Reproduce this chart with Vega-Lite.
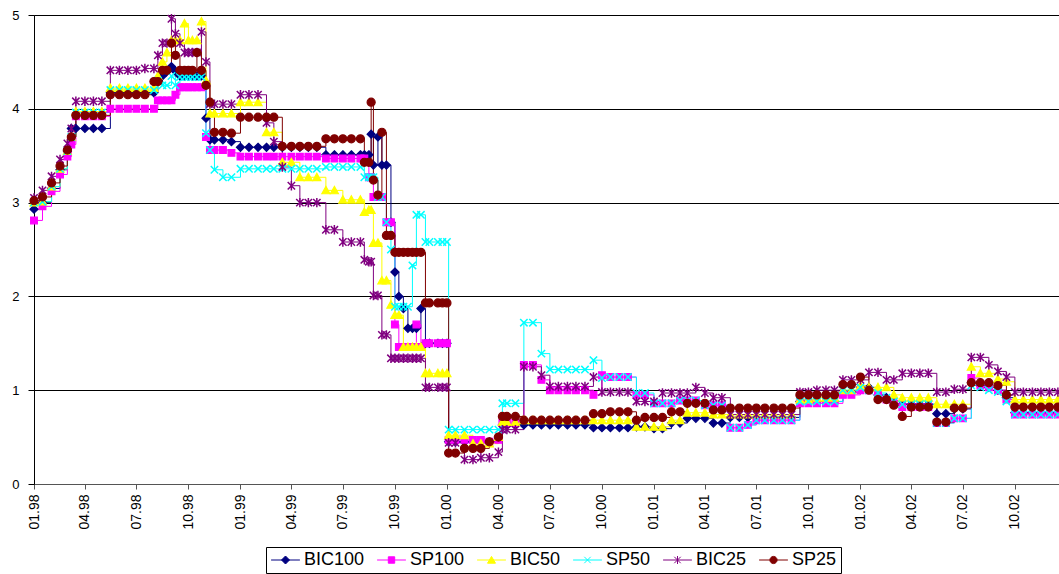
{
"$schema": "https://vega.github.io/schema/vega-lite/v6.json",
"width": 1025, "height": 469,
"autosize": {"type": "none"},
"padding": {"left": 34, "top": 15, "right": 0, "bottom": 90},
"background": "white",
"config": {"view": {"stroke": "#808080", "strokeWidth": 1}, "font": "Liberation Sans"},
"data": {"values": [
{"date":"1998-01-01","BIC100":2.93,"SP100":2.81,"BIC50":3.0,"SP50":3.0,"BIC25":3.05,"SP25":3.02},
{"date":"1998-01-16","BIC100":3.0,"SP100":2.96,"BIC50":3.01,"SP50":3.01,"BIC25":3.13,"SP25":3.06},
{"date":"1998-02-01","BIC100":3.15,"SP100":3.12,"BIC50":3.17,"SP50":3.17,"BIC25":3.28,"SP25":3.21},
{"date":"1998-02-16","BIC100":3.35,"SP100":3.3,"BIC50":3.36,"SP50":3.36,"BIC25":3.46,"SP25":3.39},
{"date":"1998-03-01","BIC100":3.55,"SP100":3.49,"BIC50":3.55,"SP50":3.55,"BIC25":3.63,"SP25":3.56},
{"date":"1998-03-08","BIC100":3.79,"SP100":3.62,"BIC50":3.7,"SP50":3.7,"BIC25":3.79,"SP25":3.7},
{"date":"1998-03-16","BIC100":3.79,"SP100":3.92,"BIC50":3.97,"SP50":3.96,"BIC25":4.08,"SP25":3.93},
{"date":"1998-04-01","BIC100":3.79,"SP100":3.92,"BIC50":3.97,"SP50":3.96,"BIC25":4.08,"SP25":3.93},
{"date":"1998-04-16","BIC100":3.79,"SP100":3.92,"BIC50":3.97,"SP50":3.96,"BIC25":4.08,"SP25":3.93},
{"date":"1998-05-01","BIC100":3.79,"SP100":3.92,"BIC50":3.97,"SP50":3.96,"BIC25":4.08,"SP25":3.93},
{"date":"1998-05-16","BIC100":4.17,"SP100":4.0,"BIC50":4.22,"SP50":4.2,"BIC25":4.41,"SP25":4.15},
{"date":"1998-06-01","BIC100":4.17,"SP100":4.0,"BIC50":4.22,"SP50":4.2,"BIC25":4.41,"SP25":4.15},
{"date":"1998-06-16","BIC100":4.17,"SP100":4.0,"BIC50":4.22,"SP50":4.2,"BIC25":4.41,"SP25":4.15},
{"date":"1998-07-01","BIC100":4.17,"SP100":4.0,"BIC50":4.22,"SP50":4.2,"BIC25":4.41,"SP25":4.15},
{"date":"1998-07-16","BIC100":4.17,"SP100":4.0,"BIC50":4.22,"SP50":4.2,"BIC25":4.43,"SP25":4.15},
{"date":"1998-08-01","BIC100":4.17,"SP100":4.0,"BIC50":4.22,"SP50":4.2,"BIC25":4.43,"SP25":4.29},
{"date":"1998-08-08","BIC100":4.3,"SP100":4.09,"BIC50":4.35,"SP50":4.3,"BIC25":4.57,"SP25":4.29},
{"date":"1998-08-16","BIC100":4.35,"SP100":4.09,"BIC50":4.5,"SP50":4.25,"BIC25":4.7,"SP25":4.41},
{"date":"1998-08-24","BIC100":4.4,"SP100":4.09,"BIC50":4.6,"SP50":4.25,"BIC25":4.7,"SP25":4.41},
{"date":"1998-09-01","BIC100":4.45,"SP100":4.09,"BIC50":4.73,"SP50":4.35,"BIC25":4.96,"SP25":4.7},
{"date":"1998-09-08","BIC100":4.4,"SP100":4.15,"BIC50":4.73,"SP50":4.25,"BIC25":4.8,"SP25":4.57},
{"date":"1998-09-16","BIC100":4.35,"SP100":4.23,"BIC50":4.73,"SP50":4.34,"BIC25":4.7,"SP25":4.41},
{"date":"1998-09-24","BIC100":4.35,"SP100":4.23,"BIC50":4.91,"SP50":4.34,"BIC25":4.6,"SP25":4.41},
{"date":"1998-10-01","BIC100":4.35,"SP100":4.23,"BIC50":4.73,"SP50":4.34,"BIC25":4.6,"SP25":4.41},
{"date":"1998-10-08","BIC100":4.35,"SP100":4.23,"BIC50":4.73,"SP50":4.34,"BIC25":4.6,"SP25":4.41},
{"date":"1998-10-16","BIC100":4.35,"SP100":4.23,"BIC50":4.73,"SP50":4.34,"BIC25":4.6,"SP25":4.6},
{"date":"1998-10-24","BIC100":4.35,"SP100":4.23,"BIC50":4.93,"SP50":4.34,"BIC25":4.82,"SP25":4.41},
{"date":"1998-11-01","BIC100":3.9,"SP100":3.7,"BIC50":4.3,"SP50":3.74,"BIC25":4.5,"SP25":4.25},
{"date":"1998-11-08","BIC100":3.67,"SP100":3.56,"BIC50":3.95,"SP50":3.56,"BIC25":4.05,"SP25":4.07},
{"date":"1998-11-16","BIC100":3.67,"SP100":3.56,"BIC50":3.95,"SP50":3.35,"BIC25":4.05,"SP25":3.75},
{"date":"1998-12-01","BIC100":3.67,"SP100":3.56,"BIC50":3.95,"SP50":3.27,"BIC25":4.05,"SP25":3.75},
{"date":"1998-12-16","BIC100":3.65,"SP100":3.53,"BIC50":3.95,"SP50":3.27,"BIC25":4.05,"SP25":3.74},
{"date":"1999-01-01","BIC100":3.59,"SP100":3.49,"BIC50":4.07,"SP50":3.36,"BIC25":4.15,"SP25":3.91},
{"date":"1999-01-16","BIC100":3.59,"SP100":3.49,"BIC50":4.07,"SP50":3.36,"BIC25":4.15,"SP25":3.91},
{"date":"1999-02-01","BIC100":3.59,"SP100":3.49,"BIC50":4.07,"SP50":3.36,"BIC25":4.15,"SP25":3.91},
{"date":"1999-02-16","BIC100":3.59,"SP100":3.49,"BIC50":3.75,"SP50":3.36,"BIC25":3.85,"SP25":3.91},
{"date":"1999-03-01","BIC100":3.59,"SP100":3.49,"BIC50":3.75,"SP50":3.36,"BIC25":3.65,"SP25":3.91},
{"date":"1999-03-16","BIC100":3.59,"SP100":3.49,"BIC50":3.43,"SP50":3.36,"BIC25":3.38,"SP25":3.6},
{"date":"1999-04-01","BIC100":3.59,"SP100":3.49,"BIC50":3.43,"SP50":3.36,"BIC25":3.18,"SP25":3.6},
{"date":"1999-04-16","BIC100":3.59,"SP100":3.49,"BIC50":3.27,"SP50":3.36,"BIC25":3.0,"SP25":3.6},
{"date":"1999-05-01","BIC100":3.59,"SP100":3.49,"BIC50":3.27,"SP50":3.36,"BIC25":3.0,"SP25":3.6},
{"date":"1999-05-16","BIC100":3.59,"SP100":3.49,"BIC50":3.27,"SP50":3.36,"BIC25":3.0,"SP25":3.6},
{"date":"1999-06-01","BIC100":3.51,"SP100":3.47,"BIC50":3.13,"SP50":3.38,"BIC25":2.71,"SP25":3.68},
{"date":"1999-06-16","BIC100":3.51,"SP100":3.47,"BIC50":3.13,"SP50":3.38,"BIC25":2.71,"SP25":3.68},
{"date":"1999-07-01","BIC100":3.51,"SP100":3.47,"BIC50":3.03,"SP50":3.38,"BIC25":2.58,"SP25":3.68},
{"date":"1999-07-16","BIC100":3.51,"SP100":3.47,"BIC50":3.03,"SP50":3.38,"BIC25":2.58,"SP25":3.68},
{"date":"1999-08-01","BIC100":3.51,"SP100":3.47,"BIC50":3.03,"SP50":3.38,"BIC25":2.58,"SP25":3.68},
{"date":"1999-08-08","BIC100":3.51,"SP100":3.47,"BIC50":2.9,"SP50":3.27,"BIC25":2.39,"SP25":3.43},
{"date":"1999-08-16","BIC100":3.51,"SP100":3.27,"BIC50":2.92,"SP50":3.27,"BIC25":2.37,"SP25":3.43},
{"date":"1999-08-20","BIC100":3.73,"SP100":3.27,"BIC50":2.92,"SP50":3.27,"BIC25":2.37,"SP25":4.07},
{"date":"1999-08-24","BIC100":3.4,"SP100":3.06,"BIC50":2.57,"SP50":3.27,"BIC25":2.01,"SP25":3.24},
{"date":"1999-09-01","BIC100":3.7,"SP100":3.06,"BIC50":2.57,"SP50":3.06,"BIC25":2.01,"SP25":3.08},
{"date":"1999-09-08","BIC100":3.4,"SP100":3.06,"BIC50":2.17,"SP50":3.06,"BIC25":1.59,"SP25":3.75},
{"date":"1999-09-16","BIC100":3.4,"SP100":2.79,"BIC50":2.17,"SP50":2.79,"BIC25":1.59,"SP25":2.65},
{"date":"1999-09-24","BIC100":2.79,"SP100":2.79,"BIC50":1.91,"SP50":2.5,"BIC25":1.34,"SP25":2.65},
{"date":"1999-10-01","BIC100":2.26,"SP100":1.7,"BIC50":1.8,"SP50":1.89,"BIC25":1.34,"SP25":2.47},
{"date":"1999-10-08","BIC100":2.0,"SP100":1.46,"BIC50":1.8,"SP50":1.89,"BIC25":1.34,"SP25":2.47},
{"date":"1999-10-16","BIC100":1.87,"SP100":1.46,"BIC50":1.46,"SP50":1.89,"BIC25":1.34,"SP25":2.47},
{"date":"1999-10-24","BIC100":1.66,"SP100":1.46,"BIC50":1.46,"SP50":1.89,"BIC25":1.34,"SP25":2.47},
{"date":"1999-11-01","BIC100":1.66,"SP100":1.46,"BIC50":1.46,"SP50":2.33,"BIC25":1.34,"SP25":2.47},
{"date":"1999-11-08","BIC100":1.66,"SP100":1.7,"BIC50":1.46,"SP50":2.87,"BIC25":1.34,"SP25":2.47},
{"date":"1999-11-16","BIC100":1.87,"SP100":1.46,"BIC50":1.46,"SP50":2.87,"BIC25":1.34,"SP25":2.47},
{"date":"1999-11-24","BIC100":1.5,"SP100":1.5,"BIC50":1.18,"SP50":2.58,"BIC25":1.03,"SP25":1.93},
{"date":"1999-12-01","BIC100":1.5,"SP100":1.5,"BIC50":1.18,"SP50":2.58,"BIC25":1.03,"SP25":1.93},
{"date":"1999-12-16","BIC100":1.5,"SP100":1.5,"BIC50":1.18,"SP50":2.58,"BIC25":1.03,"SP25":1.93},
{"date":"1999-12-24","BIC100":1.5,"SP100":1.5,"BIC50":1.18,"SP50":2.58,"BIC25":1.03,"SP25":1.93},
{"date":"2000-01-01","BIC100":1.5,"SP100":1.5,"BIC50":1.18,"SP50":2.58,"BIC25":1.03,"SP25":1.93},
{"date":"2000-01-04","BIC100":0.45,"SP100":0.47,"BIC50":0.52,"SP50":0.58,"BIC25":0.44,"SP25":0.33},
{"date":"2000-01-16","BIC100":0.45,"SP100":0.47,"BIC50":0.52,"SP50":0.58,"BIC25":0.44,"SP25":0.33},
{"date":"2000-02-01","BIC100":0.45,"SP100":0.47,"BIC50":0.52,"SP50":0.58,"BIC25":0.26,"SP25":0.38},
{"date":"2000-02-16","BIC100":0.45,"SP100":0.47,"BIC50":0.43,"SP50":0.58,"BIC25":0.26,"SP25":0.38},
{"date":"2000-03-01","BIC100":0.45,"SP100":0.47,"BIC50":0.43,"SP50":0.58,"BIC25":0.28,"SP25":0.38},
{"date":"2000-03-16","BIC100":0.45,"SP100":0.45,"BIC50":0.43,"SP50":0.58,"BIC25":0.28,"SP25":0.45},
{"date":"2000-04-01","BIC100":0.5,"SP100":0.47,"BIC50":0.5,"SP50":0.58,"BIC25":0.34,"SP25":0.5},
{"date":"2000-04-08","BIC100":0.63,"SP100":0.65,"BIC50":0.66,"SP50":0.86,"BIC25":0.58,"SP25":0.72},
{"date":"2000-04-16","BIC100":0.63,"SP100":0.65,"BIC50":0.66,"SP50":0.86,"BIC25":0.58,"SP25":0.72},
{"date":"2000-05-01","BIC100":0.63,"SP100":0.65,"BIC50":0.66,"SP50":0.86,"BIC25":0.58,"SP25":0.72},
{"date":"2000-05-16","BIC100":0.63,"SP100":1.27,"BIC50":0.68,"SP50":1.72,"BIC25":1.25,"SP25":0.68},
{"date":"2000-06-01","BIC100":0.63,"SP100":1.27,"BIC50":0.68,"SP50":1.72,"BIC25":1.25,"SP25":0.68},
{"date":"2000-06-16","BIC100":0.63,"SP100":1.11,"BIC50":0.68,"SP50":1.39,"BIC25":1.16,"SP25":0.68},
{"date":"2000-07-01","BIC100":0.63,"SP100":1.0,"BIC50":0.68,"SP50":1.22,"BIC25":1.04,"SP25":0.68},
{"date":"2000-07-16","BIC100":0.63,"SP100":1.0,"BIC50":0.68,"SP50":1.22,"BIC25":1.04,"SP25":0.68},
{"date":"2000-08-01","BIC100":0.63,"SP100":1.0,"BIC50":0.68,"SP50":1.22,"BIC25":1.04,"SP25":0.68},
{"date":"2000-08-16","BIC100":0.63,"SP100":1.0,"BIC50":0.68,"SP50":1.22,"BIC25":1.04,"SP25":0.68},
{"date":"2000-09-01","BIC100":0.63,"SP100":1.0,"BIC50":0.68,"SP50":1.22,"BIC25":1.04,"SP25":0.68},
{"date":"2000-09-16","BIC100":0.6,"SP100":0.95,"BIC50":0.68,"SP50":1.32,"BIC25":1.14,"SP25":0.75},
{"date":"2000-10-01","BIC100":0.6,"SP100":1.16,"BIC50":0.68,"SP50":1.13,"BIC25":0.98,"SP25":0.75},
{"date":"2000-10-16","BIC100":0.6,"SP100":1.14,"BIC50":0.68,"SP50":1.14,"BIC25":0.98,"SP25":0.77},
{"date":"2000-11-01","BIC100":0.6,"SP100":1.14,"BIC50":0.68,"SP50":1.14,"BIC25":0.98,"SP25":0.77},
{"date":"2000-11-16","BIC100":0.6,"SP100":1.14,"BIC50":0.68,"SP50":1.14,"BIC25":0.98,"SP25":0.77},
{"date":"2000-12-01","BIC100":0.61,"SP100":0.95,"BIC50":0.61,"SP50":0.97,"BIC25":0.88,"SP25":0.68},
{"date":"2000-12-16","BIC100":0.61,"SP100":0.95,"BIC50":0.61,"SP50":0.97,"BIC25":0.88,"SP25":0.71},
{"date":"2001-01-01","BIC100":0.59,"SP100":0.86,"BIC50":0.61,"SP50":0.86,"BIC25":0.88,"SP25":0.71},
{"date":"2001-01-16","BIC100":0.59,"SP100":0.86,"BIC50":0.61,"SP50":0.86,"BIC25":0.97,"SP25":0.71},
{"date":"2001-02-01","BIC100":0.65,"SP100":0.86,"BIC50":0.68,"SP50":0.86,"BIC25":0.97,"SP25":0.77},
{"date":"2001-02-16","BIC100":0.65,"SP100":0.89,"BIC50":0.68,"SP50":0.89,"BIC25":0.97,"SP25":0.77},
{"date":"2001-03-01","BIC100":0.7,"SP100":0.89,"BIC50":0.76,"SP50":0.89,"BIC25":0.97,"SP25":0.86},
{"date":"2001-03-16","BIC100":0.7,"SP100":0.89,"BIC50":0.76,"SP50":0.89,"BIC25":1.03,"SP25":0.86},
{"date":"2001-04-01","BIC100":0.7,"SP100":0.84,"BIC50":0.76,"SP50":0.84,"BIC25":0.97,"SP25":0.86},
{"date":"2001-04-16","BIC100":0.65,"SP100":0.84,"BIC50":0.74,"SP50":0.84,"BIC25":0.92,"SP25":0.79},
{"date":"2001-05-01","BIC100":0.65,"SP100":0.84,"BIC50":0.74,"SP50":0.84,"BIC25":0.92,"SP25":0.79},
{"date":"2001-05-16","BIC100":0.71,"SP100":0.6,"BIC50":0.74,"SP50":0.6,"BIC25":0.74,"SP25":0.81},
{"date":"2001-06-01","BIC100":0.71,"SP100":0.6,"BIC50":0.74,"SP50":0.6,"BIC25":0.74,"SP25":0.81},
{"date":"2001-06-16","BIC100":0.71,"SP100":0.63,"BIC50":0.74,"SP50":0.63,"BIC25":0.74,"SP25":0.81},
{"date":"2001-07-01","BIC100":0.71,"SP100":0.68,"BIC50":0.74,"SP50":0.68,"BIC25":0.74,"SP25":0.81},
{"date":"2001-07-16","BIC100":0.71,"SP100":0.68,"BIC50":0.74,"SP50":0.68,"BIC25":0.74,"SP25":0.81},
{"date":"2001-08-01","BIC100":0.71,"SP100":0.68,"BIC50":0.74,"SP50":0.68,"BIC25":0.74,"SP25":0.81},
{"date":"2001-08-16","BIC100":0.71,"SP100":0.68,"BIC50":0.74,"SP50":0.68,"BIC25":0.74,"SP25":0.81},
{"date":"2001-09-01","BIC100":0.71,"SP100":0.68,"BIC50":0.74,"SP50":0.68,"BIC25":0.74,"SP25":0.81},
{"date":"2001-09-16","BIC100":0.88,"SP100":0.86,"BIC50":0.9,"SP50":0.88,"BIC25":0.98,"SP25":0.95},
{"date":"2001-10-01","BIC100":0.88,"SP100":0.86,"BIC50":0.9,"SP50":0.88,"BIC25":0.98,"SP25":0.95},
{"date":"2001-10-16","BIC100":0.88,"SP100":0.86,"BIC50":0.92,"SP50":0.88,"BIC25":1.0,"SP25":0.95},
{"date":"2001-11-01","BIC100":0.88,"SP100":0.86,"BIC50":0.92,"SP50":0.88,"BIC25":1.0,"SP25":0.95},
{"date":"2001-11-16","BIC100":0.88,"SP100":0.86,"BIC50":0.92,"SP50":0.88,"BIC25":1.0,"SP25":0.95},
{"date":"2001-12-01","BIC100":0.98,"SP100":0.95,"BIC50":1.0,"SP50":1.0,"BIC25":1.11,"SP25":1.06},
{"date":"2001-12-16","BIC100":0.98,"SP100":0.95,"BIC50":1.0,"SP50":1.0,"BIC25":1.11,"SP25":1.06},
{"date":"2002-01-01","BIC100":1.03,"SP100":1.0,"BIC50":1.05,"SP50":1.03,"BIC25":1.11,"SP25":1.14},
{"date":"2002-01-16","BIC100":1.03,"SP100":1.0,"BIC50":1.03,"SP50":1.0,"BIC25":1.19,"SP25":1.0},
{"date":"2002-02-01","BIC100":0.95,"SP100":0.95,"BIC50":1.03,"SP50":0.97,"BIC25":1.19,"SP25":0.9},
{"date":"2002-02-16","BIC100":0.92,"SP100":0.9,"BIC50":1.03,"SP50":0.92,"BIC25":1.11,"SP25":0.9},
{"date":"2002-03-01","BIC100":0.88,"SP100":0.86,"BIC50":0.95,"SP50":0.88,"BIC25":1.11,"SP25":0.84},
{"date":"2002-03-16","BIC100":0.85,"SP100":0.82,"BIC50":0.92,"SP50":0.85,"BIC25":1.18,"SP25":0.72},
{"date":"2002-04-01","BIC100":0.85,"SP100":0.82,"BIC50":0.92,"SP50":0.85,"BIC25":1.18,"SP25":0.82},
{"date":"2002-04-16","BIC100":0.85,"SP100":0.82,"BIC50":0.92,"SP50":0.85,"BIC25":1.18,"SP25":0.82},
{"date":"2002-05-01","BIC100":0.85,"SP100":0.82,"BIC50":0.92,"SP50":0.85,"BIC25":1.18,"SP25":0.82},
{"date":"2002-05-16","BIC100":0.75,"SP100":0.65,"BIC50":0.85,"SP50":0.65,"BIC25":0.98,"SP25":0.66},
{"date":"2002-06-01","BIC100":0.75,"SP100":0.65,"BIC50":0.85,"SP50":0.65,"BIC25":0.98,"SP25":0.66},
{"date":"2002-06-16","BIC100":0.8,"SP100":0.7,"BIC50":0.85,"SP50":0.7,"BIC25":1.01,"SP25":0.81},
{"date":"2002-07-01","BIC100":0.8,"SP100":0.7,"BIC50":0.85,"SP50":0.7,"BIC25":1.01,"SP25":0.81},
{"date":"2002-07-16","BIC100":1.08,"SP100":1.13,"BIC50":1.25,"SP50":1.05,"BIC25":1.35,"SP25":1.08},
{"date":"2002-08-01","BIC100":1.05,"SP100":1.05,"BIC50":1.18,"SP50":1.03,"BIC25":1.35,"SP25":1.08},
{"date":"2002-08-16","BIC100":1.03,"SP100":1.03,"BIC50":1.18,"SP50":1.0,"BIC25":1.27,"SP25":1.08},
{"date":"2002-09-01","BIC100":1.0,"SP100":1.0,"BIC50":1.12,"SP50":0.98,"BIC25":1.2,"SP25":1.05},
{"date":"2002-09-16","BIC100":0.92,"SP100":0.9,"BIC50":1.09,"SP50":0.88,"BIC25":1.14,"SP25":0.95},
{"date":"2002-10-01","BIC100":0.76,"SP100":0.74,"BIC50":0.9,"SP50":0.74,"BIC25":0.98,"SP25":0.82},
{"date":"2002-10-16","BIC100":0.76,"SP100":0.74,"BIC50":0.9,"SP50":0.74,"BIC25":0.98,"SP25":0.82},
{"date":"2002-11-01","BIC100":0.76,"SP100":0.74,"BIC50":0.9,"SP50":0.74,"BIC25":0.98,"SP25":0.82},
{"date":"2002-11-16","BIC100":0.76,"SP100":0.74,"BIC50":0.9,"SP50":0.74,"BIC25":0.98,"SP25":0.82},
{"date":"2002-12-01","BIC100":0.76,"SP100":0.74,"BIC50":0.9,"SP50":0.74,"BIC25":0.98,"SP25":0.82},
{"date":"2002-12-16","BIC100":0.76,"SP100":0.74,"BIC50":0.9,"SP50":0.74,"BIC25":0.98,"SP25":0.82}
]},
"transform": [
  {"fold": ["BIC100","SP100","BIC50","SP50","BIC25","SP25"], "as": ["series","yield"]}
],
"encoding": {
  "x": {"field": "date", "type": "temporal",
        "scale": {"domain": ["1998-01-01","2002-12-18"]},
        "axis": {"title": null, "format": "%m.%y", "tickCount": {"interval": "month", "step": 3},
                 "labelAngle": -90, "labelFontSize": 14, "labelColor": "black", "labelFont": "Liberation Sans",
                 "tickSize": 5, "labelPadding": 5, "domainColor": "#555555", "tickColor": "#555555",
                 "grid": false, "labelOverlap": false, "labelFlush": false, "labelBound": false}},
  "y": {"field": "yield", "type": "quantitative",
        "scale": {"domain": [0,5], "nice": false},
        "axis": {"title": null, "values": [0,1,2,3,4,5], "labelFontSize": 13, "labelColor": "black",
                 "labelFont": "Liberation Sans", "tickSize": 6, "labelPadding": 9,
                 "domainColor": "black", "tickColor": "black",
                 "grid": true, "gridColor": "black", "gridOpacity": 1, "gridWidth": 1}}
},
"layer": [
  {"mark": {"type": "line", "strokeWidth": 1, "interpolate": "step-after"},
   "encoding": {
     "color": {"field": "series", "type": "nominal",
               "scale": {"domain": ["BIC100","SP100","BIC50","SP50","BIC25","SP25"],
                         "range": ["#000080","#FF00FF","#FFFF00","#00FFFF","#800080","#800000"]},
               "legend": {"orient": "none", "legendX": 232, "legendY": 532, "direction": "horizontal",
                       "title": null, "strokeColor": "black", "padding": 4,
                       "labelFont": "Liberation Sans", "labelFontSize": 18, "labelColor": "black",
                       "symbolSize": 64, "symbolStrokeWidth": 1, "symbolOpacity": 1, "symbolOffset": 6.5, "labelOffset": 9.5,
                       "columnPadding": 10}}}},
  {"transform": [{"filter": "datum.series === 'BIC100'"}],
   "mark": {"type": "point", "shape": "M0,-1.2L1.2,0L0,1.2L-1.2,0Z", "filled": true, "fill": "#000080", "stroke": "#000080", "strokeWidth": 1.2, "size": 45, "opacity": 1}},
  {"transform": [{"filter": "datum.series === 'SP100'"}],
   "mark": {"type": "point", "shape": "M-1,-1L1,-1L1,1L-1,1Z", "filled": true, "fill": "#FF00FF", "stroke": "#FF00FF", "strokeWidth": 1.2, "size": 45, "opacity": 1}},
  {"transform": [{"filter": "datum.series === 'BIC50'"}],
   "mark": {"type": "point", "shape": "M0,-1.2L1.2,1L-1.2,1Z", "filled": true, "fill": "#FFFF00", "stroke": "#FFFF00", "strokeWidth": 1.2, "size": 45, "opacity": 1}},
  {"transform": [{"filter": "datum.series === 'SP50'"}],
   "mark": {"type": "point", "shape": "M-1.1,-1.1L1.1,1.1M-1.1,1.1L1.1,-1.1", "filled": false, "stroke": "#00FFFF", "strokeWidth": 1.5, "size": 45, "opacity": 1}},
  {"transform": [{"filter": "datum.series === 'BIC25'"}],
   "mark": {"type": "point", "shape": "M-1.1,-1.1L1.1,1.1M-1.1,1.1L1.1,-1.1M0,-1.4L0,1.4", "filled": false, "stroke": "#800080", "strokeWidth": 1.5, "size": 45, "opacity": 1}},
  {"transform": [{"filter": "datum.series === 'SP25'"}],
   "mark": {"type": "point", "shape": "M-1.2,0A1.2,1.2,0,1,1,1.2,0A1.2,1.2,0,1,1,-1.2,0Z", "filled": true, "fill": "#800000", "stroke": "#800000", "strokeWidth": 1.2, "size": 45, "opacity": 1}},
  {"transform": [{"filter": "false"}],
   "mark": {"type": "point", "filled": true, "size": 64, "strokeWidth": 1, "opacity": 1},
   "encoding": {
     "color": {"field": "series", "type": "nominal",
               "legend": {"orient": "none", "legendX": 232, "legendY": 532, "direction": "horizontal",
                       "title": null, "strokeColor": "black", "padding": 4,
                       "labelFont": "Liberation Sans", "labelFontSize": 18, "labelColor": "black",
                       "symbolSize": 64, "symbolStrokeWidth": 1, "symbolOpacity": 1, "symbolOffset": 6.5, "labelOffset": 9.5,
                       "columnPadding": 10}},
     "shape": {"field": "series", "type": "nominal",
               "scale": {"domain": ["BIC100","SP100","BIC50","SP50","BIC25","SP25"],
                         "range": ["M-3.6,0L3.6,0M0,-1L1,0L0,1L-1,0Z","M-3.6,0L3.6,0M-0.8,-0.8L0.8,-0.8L0.8,0.8L-0.8,0.8Z","M-3.6,0L3.6,0M0,-0.9L1,0.8L-1,0.8Z","M-3.6,0L3.6,0M-0.8,-0.8L0.8,0.8M-0.8,0.8L0.8,-0.8","M-3.6,0L3.6,0M-0.8,-0.8L0.8,0.8M-0.8,0.8L0.8,-0.8M0,-1L0,1","M-3.6,0L3.6,0M-0.9,0A0.9,0.9,0,1,1,0.9,0A0.9,0.9,0,1,1,-0.9,0Z"]},
               "legend": {"orient": "none", "legendX": 232, "legendY": 532, "direction": "horizontal",
                       "title": null, "strokeColor": "black", "padding": 4,
                       "labelFont": "Liberation Sans", "labelFontSize": 18, "labelColor": "black",
                       "symbolSize": 64, "symbolStrokeWidth": 1, "symbolOpacity": 1, "symbolOffset": 6.5, "labelOffset": 9.5,
                       "columnPadding": 10}}
   }}
]
}
